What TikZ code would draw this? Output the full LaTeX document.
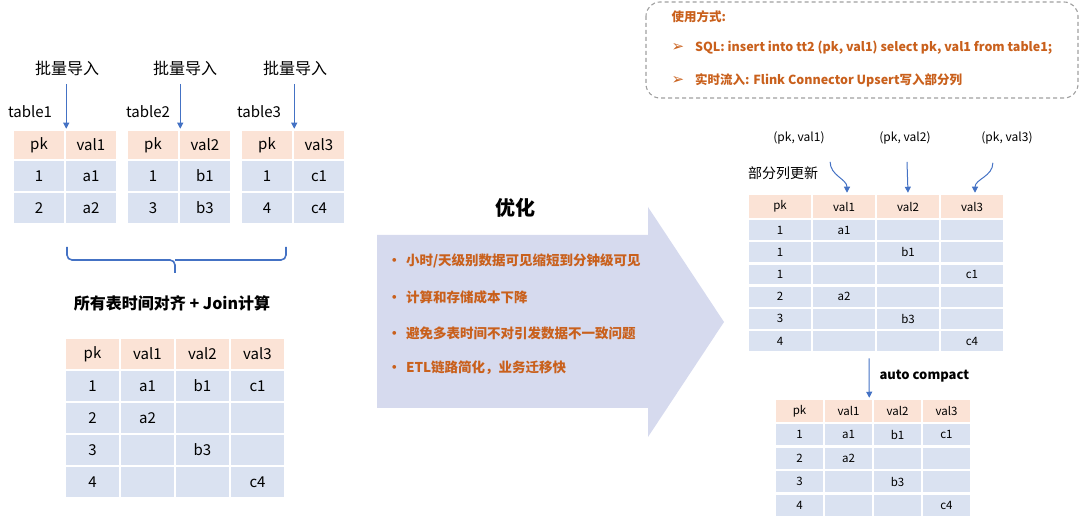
\documentclass[tikz,border=0pt]{standalone}
\usepackage{fontspec}
\setmainfont{Noto Sans CJK SC}
\newfontfamily\dingfont{DejaVu Sans}
\usepackage{tikz}
\usetikzlibrary{arrows.meta,positioning,calc}

\definecolor{headcol}{RGB}{251,227,214}
\definecolor{bodycol}{RGB}{218,226,241}
\definecolor{bigarrow}{RGB}{214,218,238}
\definecolor{lineblue}{RGB}{68,114,196}
\definecolor{tipcol}{RGB}{201,96,28}
\definecolor{boxgray}{RGB}{160,160,160}

\newcommand{\bigcell}{\fontsize{15}{18}\selectfont}
\newcommand{\smallcell}{\fontsize{11.5}{14}\selectfont}

\tikzset{
  hcell/.style={rectangle, fill=headcol, draw=white, line width=2.5pt, inner sep=0pt},
  bcell/.style={rectangle, fill=bodycol, draw=white, line width=2.5pt, inner sep=0pt},
  bluearrow/.style={draw=lineblue, line width=1pt, -{Triangle[width=6pt,length=6pt]}},
  tiptext/.style={text=tipcol, anchor=west, font=\fontsize{13.5}{16}\selectfont\bfseries},
  usetext/.style={text=tipcol, anchor=west, font=\fontsize{12.5}{15}\selectfont\bfseries},
}

\begin{document}
\begin{tikzpicture}[x=1pt,y=-1pt]
\useasboundingbox (0,0) rectangle (1080,521);

% three source tables
\foreach \t [count=\i] in {pk,val1}
  \node[hcell, minimum width=52pt, minimum height=30pt, font=\bigcell] (ta-h\i) at ({13+52*(\i-0.5)},145) {\t};
\foreach \row [count=\j] in {{1,a1},{2,a2}}
  \foreach \c [count=\i] in \row
    \node[bcell, minimum width=52pt, minimum height=32pt, font=\bigcell] (ta-\j-\i) at ({13+52*(\i-0.5)},{160+32*(\j-0.5)}) {\c};

\foreach \t [count=\i] in {pk,val2}
  \node[hcell, minimum width=52pt, minimum height=30pt, font=\bigcell] (tb-h\i) at ({127+52*(\i-0.5)},145) {\t};
\foreach \row [count=\j] in {{1,b1},{3,b3}}
  \foreach \c [count=\i] in \row
    \node[bcell, minimum width=52pt, minimum height=32pt, font=\bigcell] (tb-\j-\i) at ({127+52*(\i-0.5)},{160+32*(\j-0.5)}) {\c};

\foreach \t [count=\i] in {pk,val3}
  \node[hcell, minimum width=52pt, minimum height=30pt, font=\bigcell] (tc-h\i) at ({241+52*(\i-0.5)},145) {\t};
\foreach \row [count=\j] in {{1,c1},{4,c4}}
  \foreach \c [count=\i] in \row
    \node[bcell, minimum width=52pt, minimum height=32pt, font=\bigcell] (tc-\j-\i) at ({241+52*(\i-0.5)},{160+32*(\j-0.5)}) {\c};

\node[font=\bigcell] (tname1) at (30,112) {table1};
\node[font=\bigcell] (tname2) at (148,112) {table2};
\node[font=\bigcell] (tname3) at (259,112) {table3};

\node[font=\fontsize{16}{19}\selectfont] (load1) at (67,68) {批量导入};
\node[font=\fontsize{16}{19}\selectfont] (load2) at (185,68) {批量导入};
\node[font=\fontsize{16}{19}\selectfont] (load3) at (295,68) {批量导入};

\draw[bluearrow] ($(load1.south -| ta-h1.east)+(0,5)$) -- (ta-h1.north east);
\draw[bluearrow] ($(load2.south -| tb-h1.east)+(0,5)$) -- (tb-h1.north east);
\draw[bluearrow] ($(load3.south -| tc-h1.east)+(0,5)$) -- (tc-h1.north east);

% brace
\draw[lineblue, line width=1.6pt, rounded corners=5pt]
  (67,247) -- (67,260) -- (175,260) -- (175,273);
\draw[lineblue, line width=1.6pt, rounded corners=5pt]
  (286,247) -- (286,260) -- (175,260);

\node[font=\fontsize{16}{19}\selectfont\bfseries] (jointitle) at (172,303) {所有表时间对齐 + Join计算};

% joined table
\foreach \t [count=\i] in {pk,val1,val2,val3}
  \node[hcell, minimum width=55pt, minimum height=32pt, font=\bigcell] (tj-h\i) at ({65+55*(\i-0.5)},354) {\t};
\foreach \row [count=\j] in {{1,a1,b1,c1},{2,a2,{},{}},{3,{},b3,{}},{4,{},{},c4}}
  \foreach \c [count=\i] in \row
    \node[bcell, minimum width=55pt, minimum height=32pt, font=\bigcell] (tj-\j-\i) at ({65+55*(\i-0.5)},{370+32*(\j-0.5)}) {\c};

% big arrow
\fill[bigarrow] (377,235) -- (648,235) -- (648,207) -- (724,322) -- (648,437) -- (648,408) -- (377,408) -- cycle;
\node[font=\fontsize{20}{24}\selectfont\bfseries] (optim) at (515,208) {优化};
\node[tiptext] (tip1) at (384,261) {•\hspace{5pt}小时/天级别数据可见缩短到分钟级可见};
\node[tiptext] (tip2) at (384,297) {•\hspace{5pt}计算和存储成本下降};
\node[tiptext] (tip3) at (384,333) {•\hspace{5pt}避免多表时间不对引发数据不一致问题};
\node[tiptext] (tip4) at (384,368) {•\hspace{5pt}ETL链路简化，业务迁移快};

% usage box
\draw[boxgray, line width=1.1pt, dash pattern=on 4pt off 3pt, rounded corners=14pt] (646,2) rectangle (1078,98);
\node[usetext] (use0) at (668,17) {使用方式:};
\node[usetext] (use1) at (668,48) {{\dingfont\fontsize{15}{15}\selectfont ➢}\hspace{11pt}SQL: insert into tt2 (pk, val1) select pk, val1 from table1;};
\node[usetext] (use2) at (668,80) {{\dingfont\fontsize{15}{15}\selectfont ➢}\hspace{11pt}实时流入: Flink Connector Upsert写入部分列};

% partial update table
\foreach \t [count=\i] in {pk,val1,val2,val3}
  \node[hcell, minimum width=64pt, minimum height=25pt, font=\smallcell] (tr-h\i) at ({748+64*(\i-0.5)},206.5) {\t};
\foreach \row [count=\j] in {{1,a1,{},{}},{1,{},b1,{}},{1,{},{},c1},{2,a2,{},{}},{3,{},b3,{}},{4,{},{},c4}}
  \foreach \c [count=\i] in \row
    \node[bcell, minimum width=64pt, minimum height=22.2pt, font=\smallcell] (tr-\j-\i) at ({748+64*(\i-0.5)},{219+22.2*(\j-0.5)}) {\c};

\node[font=\fontsize{12}{14}\selectfont] (col1) at (799,138) {(pk, val1)};
\node[font=\fontsize{12}{14}\selectfont] (col2) at (905,138) {(pk, val2)};
\node[font=\fontsize{12}{14}\selectfont] (col3) at (1007,138) {(pk, val3)};
\node[font=\fontsize{14}{16}\selectfont] (partial) at (783,173) {部分列更新};

\draw[bluearrow] ($(col1.south east)+(2,14)$) to[out=-90,in=90] ($(tr-h2.north)+(3,0)$);
\draw[bluearrow] ($(col2.south)+(2,14)$) -- (tr-h3.north);
\draw[bluearrow] ($(col3.south west)+(15,15)$) to[out=-90,in=90] ($(tr-h4.north)+(3,0)$);

% compacted table
\foreach \t [count=\i] in {pk,val1,val2,val3}
  \node[hcell, minimum width=49pt, minimum height=24pt, font=\smallcell] (tm-h\i) at ({775+49*(\i-0.5)},411) {\t};
\foreach \row [count=\j] in {{1,a1,b1,c1},{2,a2,{},{}},{3,{},b3,{}},{4,{},{},c4}}
  \foreach \c [count=\i] in \row
    \node[bcell, minimum width=49pt, minimum height=23.5pt, font=\smallcell] (tm-\j-\i) at ({775+49*(\i-0.5)},{423+23.5*(\j-0.5)}) {\c};

\draw[bluearrow] ($(tr-6-2.south)!0.5!(tr-6-3.south)+(-7,5)$) -- ($(tm-h2.north east)+(-5,0)$);
\node[font=\fontsize{13}{15}\selectfont\bfseries, anchor=west] (compact) at (876,376) {auto compact};
\end{tikzpicture}
\end{document}
